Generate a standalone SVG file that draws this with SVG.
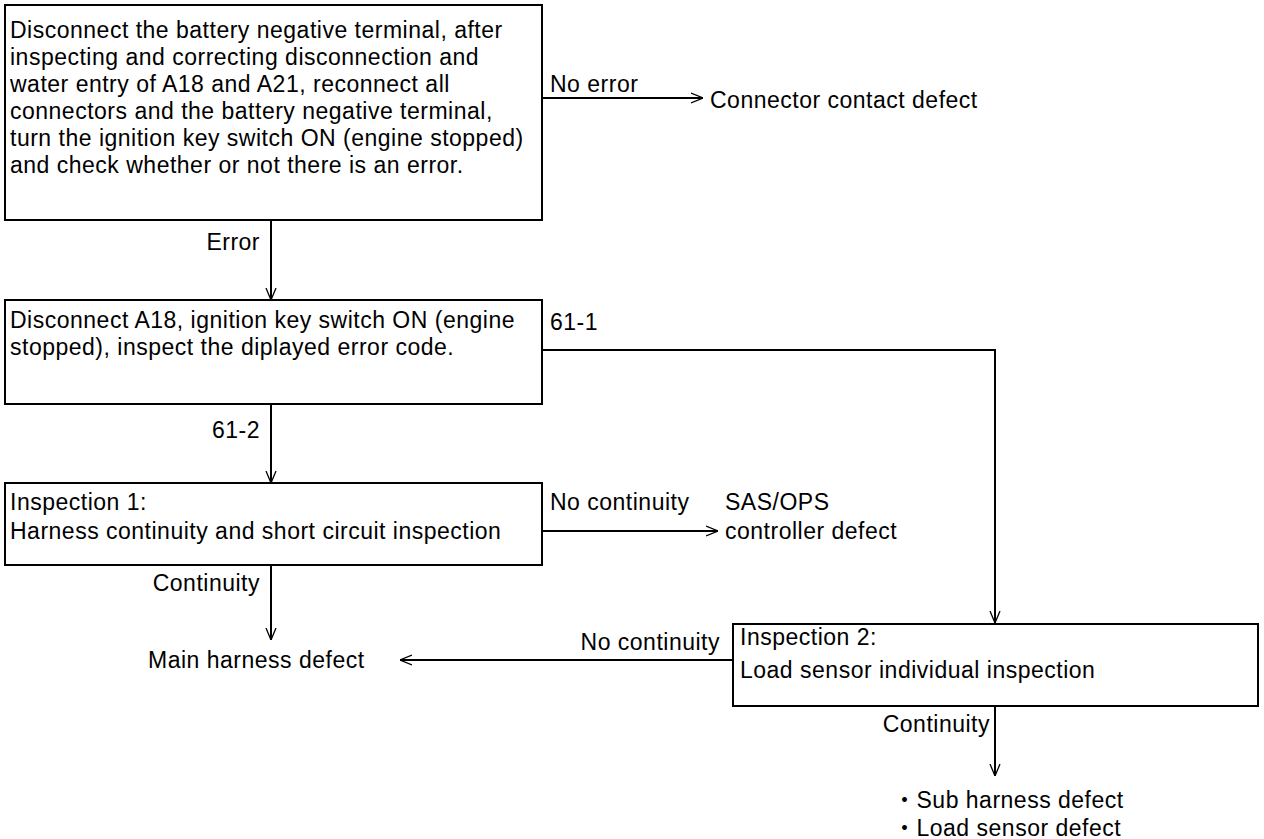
<svg xmlns="http://www.w3.org/2000/svg" width="1264" height="839" viewBox="0 0 1264 839">
  <style>
    .box { fill: #fff; stroke: #000; stroke-width: 2; }
    .line { fill: none; stroke: #000; stroke-width: 2; }
    text { font-family: "Liberation Sans", Arial, "Noto Sans CJK JP", sans-serif; font-size: 23px; letter-spacing: 0.5px; fill: #000; }
    .r { text-anchor: end; }
  </style>
  <defs>
    <marker id="arrow" viewBox="0 0 12 12" refX="12" refY="6" markerWidth="12" markerHeight="12" markerUnits="userSpaceOnUse" orient="auto">
      <path d="M0,1 L12,6 L0,11" fill="none" stroke="#000" stroke-width="1.3"/>
    </marker>
  </defs>
  <rect width="1264" height="839" fill="#fff"/>

  <g id="connectors">
    <line class="line" x1="542" y1="98" x2="703" y2="98" marker-end="url(#arrow)"/>
    <line class="line" x1="271" y1="220" x2="271" y2="300" marker-end="url(#arrow)"/>
    <polyline class="line" points="542,350 995,350 995,623" marker-end="url(#arrow)"/>
    <line class="line" x1="271" y1="404" x2="271" y2="483" marker-end="url(#arrow)"/>
    <line class="line" x1="542" y1="531" x2="718" y2="531" marker-end="url(#arrow)"/>
    <line class="line" x1="271" y1="565" x2="271" y2="640" marker-end="url(#arrow)"/>
    <line class="line" x1="733" y1="660" x2="400" y2="660" marker-end="url(#arrow)"/>
    <line class="line" x1="995" y1="706" x2="995" y2="776" marker-end="url(#arrow)"/>
    <text x="550" y="92">No error</text>
    <text class="r" x="260" y="250">Error</text>
    <text x="550" y="330">61-1</text>
    <text class="r" x="260" y="438">61-2</text>
    <text x="550" y="510">No continuity</text>
    <text class="r" x="260" y="591">Continuity</text>
    <text class="r" x="720" y="650">No continuity</text>
    <text class="r" x="990" y="732">Continuity</text>
  </g>

  <g id="check-error">
    <rect class="box" x="5" y="5" width="537" height="215"/>
    <text x="10" y="38">Disconnect the battery negative terminal, after</text>
    <text x="10" y="65">inspecting and correcting disconnection and</text>
    <text x="10" y="92">water entry of A18 and A21, reconnect all</text>
    <text x="10" y="119">connectors and the battery negative terminal,</text>
    <text x="10" y="146">turn the ignition key switch ON (engine stopped)</text>
    <text x="10" y="173">and check whether or not there is an error.</text>
  </g>

  <g id="connector-contact-defect">
    <text x="710" y="108">Connector contact defect</text>
  </g>

  <g id="error-code">
    <rect class="box" x="5" y="300" width="537" height="104"/>
    <text x="10" y="328">Disconnect A18, ignition key switch ON (engine</text>
    <text x="10" y="355">stopped), inspect the diplayed error code.</text>
  </g>

  <g id="inspection-1">
    <rect class="box" x="5" y="483" width="537" height="82"/>
    <text x="10" y="510">Inspection 1:</text>
    <text x="10" y="539">Harness continuity and short circuit inspection</text>
  </g>

  <g id="controller-defect">
    <text x="725" y="510">SAS/OPS</text>
    <text x="725" y="539">controller defect</text>
  </g>

  <g id="main-harness-defect">
    <text x="148" y="668">Main harness defect</text>
  </g>

  <g id="inspection-2">
    <rect class="box" x="733" y="624" width="525" height="82"/>
    <text x="740" y="645">Inspection 2:</text>
    <text x="740" y="678">Load sensor individual inspection</text>
  </g>

  <g id="sensor-defects">
    <text x="893" y="808">・Sub harness defect</text>
    <text x="893" y="836">・Load sensor defect</text>
  </g>
</svg>
